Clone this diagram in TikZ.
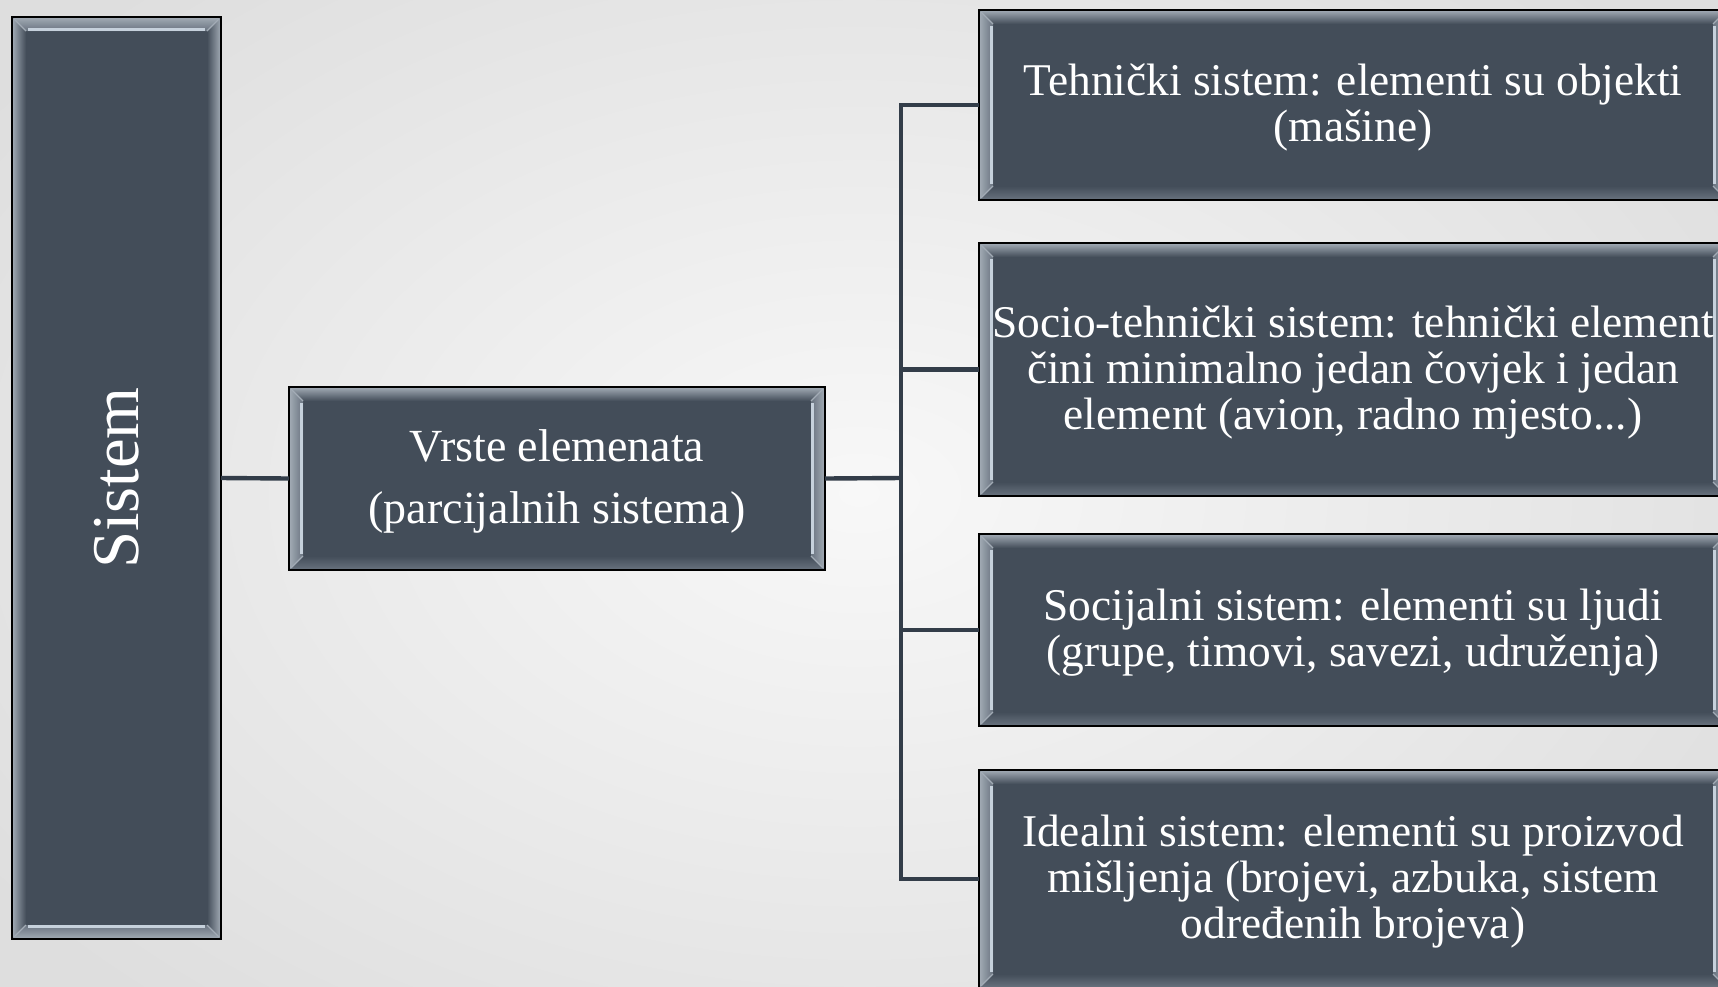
\documentclass[tikz,border=0pt]{standalone}
\usepackage{fontspec}
\setmainfont{Liberation Serif}
\usetikzlibrary{calc}

\definecolor{boxfill}{HTML}{434D59}
\definecolor{linkcol}{HTML}{333D49}
\definecolor{rimlight}{HTML}{C6D1DC}
\definecolor{rimouter}{HTML}{A3ACB6}
\definecolor{rimmid}{HTML}{69737F}
\definecolor{bgin}{HTML}{F8F8F8}
\definecolor{bgout}{HTML}{DEDEDE}

\tikzset{
  panel/.style={draw=black, line width=0.8pt, fill=boxfill,
    inner sep=0pt, outer sep=0pt},
  caption/.style={text=white, align=center, inner sep=0pt, yshift=-1.5pt},
  link/.style={draw=linkcol, line width=2.2pt},
  % bevelled frame, bright bars on the left and right sides
  bevelLR/.style={path picture={
    \coordinate (pa) at (path picture bounding box.south west);
    \coordinate (pb) at (path picture bounding box.north east);
    \coordinate (pc) at (path picture bounding box.north west);
    \coordinate (pd) at (path picture bounding box.south east);
    \shade[top color=rimouter, bottom color=boxfill]
      (pc) -- (pb) -- ($(pb)+(-7pt,-7pt)$) -- ($(pc)+(7pt,-7pt)$) -- cycle;
    \shade[top color=boxfill, bottom color=rimmid]
      (pa) -- (pd) -- ($(pd)+(-7pt,7pt)$) -- ($(pa)+(7pt,7pt)$) -- cycle;
    \shade[left color=rimouter, right color=rimmid]
      (pa) -- (pc) -- ($(pc)+(7pt,-7pt)$) -- ($(pa)+(7pt,7pt)$) -- cycle;
    \shade[left color=rimmid, right color=rimouter]
      (pd) -- (pb) -- ($(pb)+(-7pt,-7pt)$) -- ($(pd)+(-7pt,7pt)$) -- cycle;
    \draw[rimlight, line width=1.5pt]
      ($(pa)+(6.2pt,8pt)$) -- ($(pc)+(6.2pt,-8pt)$);
    \draw[rimlight, line width=1.5pt]
      ($(pd)+(-6.2pt,8pt)$) -- ($(pb)+(-6.2pt,-8pt)$);
    \draw[rimouter, line width=0.6pt]
      ($(pc)+(1pt,-1pt)$) -- ($(pc)+(7pt,-7pt)$)
      ($(pa)+(1pt,1pt)$) -- ($(pa)+(7pt,7pt)$)
      ($(pb)+(-1pt,-1pt)$) -- ($(pb)+(-7pt,-7pt)$)
      ($(pd)+(-1pt,1pt)$) -- ($(pd)+(-7pt,7pt)$);
  }},
  % bevelled frame, bright bars on the top and bottom sides
  bevelTB/.style={path picture={
    \coordinate (pa) at (path picture bounding box.south west);
    \coordinate (pb) at (path picture bounding box.north east);
    \coordinate (pc) at (path picture bounding box.north west);
    \coordinate (pd) at (path picture bounding box.south east);
    \shade[top color=rimouter, bottom color=rimmid]
      (pc) -- (pb) -- ($(pb)+(-7pt,-7pt)$) -- ($(pc)+(7pt,-7pt)$) -- cycle;
    \shade[top color=rimmid, bottom color=rimouter]
      (pa) -- (pd) -- ($(pd)+(-7pt,7pt)$) -- ($(pa)+(7pt,7pt)$) -- cycle;
    \shade[left color=rimouter, right color=boxfill]
      (pa) -- (pc) -- ($(pc)+(7pt,-7pt)$) -- ($(pa)+(7pt,7pt)$) -- cycle;
    \shade[left color=boxfill, right color=rimouter]
      (pd) -- (pb) -- ($(pb)+(-7pt,-7pt)$) -- ($(pd)+(-7pt,7pt)$) -- cycle;
    \draw[rimlight, line width=1.5pt]
      ($(pc)+(8pt,-6.2pt)$) -- ($(pb)+(-8pt,-6.2pt)$);
    \draw[rimlight, line width=1.5pt]
      ($(pa)+(8pt,6.2pt)$) -- ($(pd)+(-8pt,6.2pt)$);
    \draw[rimouter, line width=0.6pt]
      ($(pc)+(1pt,-1pt)$) -- ($(pc)+(7pt,-7pt)$)
      ($(pa)+(1pt,1pt)$) -- ($(pa)+(7pt,7pt)$)
      ($(pb)+(-1pt,-1pt)$) -- ($(pb)+(-7pt,-7pt)$)
      ($(pd)+(-1pt,1pt)$) -- ($(pd)+(-7pt,7pt)$);
  }},
  rtext/.style={font=\fontsize{22.7pt}{23pt}\selectfont},
}

\begin{document}
\begin{tikzpicture}[x=0.5pt, y=-0.5pt]
  \useasboundingbox (0,0) rectangle (1718,986);
  % background
  \begin{scope}
    \clip (0,0) rectangle (1718,986);
    \shade[inner color=bgin, outer color=bgout] (-200,-200) rectangle (1918,1186);
  \end{scope}

  % root
  \node[panel, bevelTB, minimum width=104.5pt, minimum height=461pt]
    (sistem) at (116.5,478) {};
  \node[text=white, rotate=90, font=\fontsize{33.4pt}{36pt}\selectfont]
    (sistemtxt) at (116.5,478) {Sistem};

  % middle level
  \node[panel, bevelLR, minimum width=268pt, minimum height=91.5pt,
        label={[caption, name=vrstetxt, font=\fontsize{23pt}{31pt}\selectfont]center:Vrste elemenata\\(parcijalnih sistema)}]
    (vrste) at (557,478.5) {};

  % kinds of elements
  \node[panel, bevelLR, minimum width=374pt, minimum height=95pt,
        label={[caption, rtext, name=b1txt]center:Tehnički sistem: elementi su objekti\\(mašine)}]
    (b1) at (1353,105) {};
  \node[panel, bevelLR, minimum width=374pt, minimum height=126.5pt,
        label={[caption, rtext, name=b2txt]center:Socio-tehnički sistem: tehnički element\\čini minimalno jedan čovjek i jedan\\element (avion, radno mjesto...)}]
    (b2) at (1353,369.5) {};
  \node[panel, bevelLR, minimum width=374pt, minimum height=96pt,
        label={[caption, rtext, name=b3txt]center:Socijalni sistem: elementi su ljudi\\(grupe, timovi, savezi, udruženja)}]
    (b3) at (1353,630) {};
  \node[panel, bevelLR, minimum width=374pt, minimum height=109pt,
        label={[caption, rtext, name=b4txt]center:Idealni sistem: elementi su proizvod\\mišljenja (brojevi, azbuka, sistem\\određenih brojeva)}]
    (b4) at (1353,879) {};

  % connectors
  \coordinate (split) at (901,478);
  \draw[link] (sistem.east) -- (vrste.west);
  \draw[link] (vrste.east) -- (split);
  \draw[link] (split) |- (b1.west);
  \draw[link] (split) |- (b2.west);
  \draw[link] (split) |- (b3.west);
  \draw[link] (split) |- (b4.west);
\end{tikzpicture}
\end{document}
